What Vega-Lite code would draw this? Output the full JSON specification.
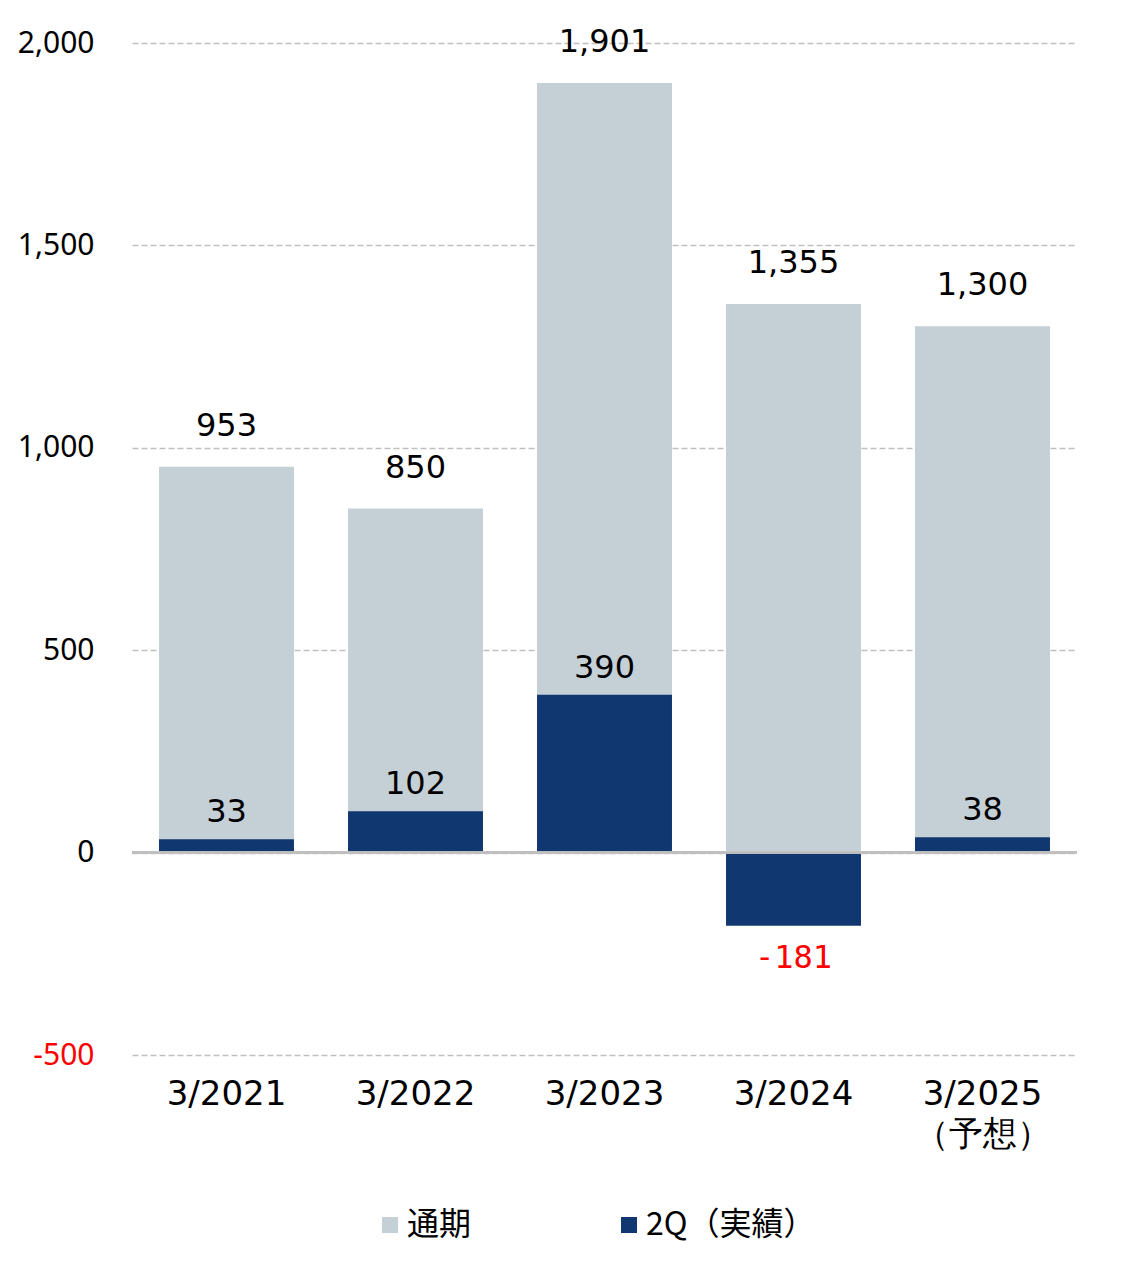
{
  "$schema": "https://vega.github.io/schema/vega-lite/v6.json",
  "width": 945,
  "height": 1012,
  "autosize": {"type": "none"},
  "padding": {"left": 132, "top": 43, "right": 55, "bottom": 209},
  "background": "white",
  "config": {"view": {"stroke": null}, "font": "DejaVu Sans"},
  "data": {
    "values": [
      {"period": "3/2021", "full": 953, "q2": 33},
      {"period": "3/2022", "full": 850, "q2": 102},
      {"period": "3/2023", "full": 1901, "q2": 390},
      {"period": "3/2024", "full": 1355, "q2": -181},
      {"period": "3/2025", "full": 1300, "q2": 38}
    ]
  },
  "layer": [
    {
      "mark": {"type": "bar"},
      "encoding": {
        "x": {
          "field": "period", "type": "nominal", "sort": null,
          "scale": {"paddingInner": 0.286, "paddingOuter": 0.143},
          "axis": {
            "title": null, "ticks": false, "domain": false, "labelAngle": 0,
            "labelFont": "DejaVu Sans", "labelFontSize": 34, "labelColor": "#000000",
            "labelPadding": 22, "labelBaseline": "top", "labelLineHeight": 40,
            "labelExpr": "datum.value == '3/2025' ? ['3/2025', '（予想）'] : datum.value"
          }
        },
        "y": {
          "field": "full", "type": "quantitative",
          "scale": {"domain": [-500, 2000], "nice": false},
          "axis": {
            "title": null, "values": [-500, 0, 500, 1000, 1500, 2000],
            "labelExpr": "replace(format(datum.value, ',.0f'), '−', '-')",
            "ticks": false, "domain": false,
            "labelFont": "Noto Sans", "labelFontSize": 30, "labelPadding": 38,
            "labelColor": {"condition": {"test": "datum.value < 0", "value": "#FF0000"}, "value": "#000000"},
            "gridColor": "#BFBFBF", "gridDash": [6, 3], "gridWidth": 1.5
          }
        },
        "color": {
          "datum": "通期", "type": "nominal",
          "scale": {"domain": ["通期", "2Q（実績）"], "range": ["#C5CFD6", "#10376F"]},
          "legend": {
            "title": null, "orient": "none", "direction": "horizontal",
            "legendX": 242, "legendY": 1166,
            "symbolType": "square", "symbolSize": 256, "symbolStrokeWidth": 0,
            "labelFont": "Noto Sans CJK JP", "labelFontSize": 32, "labelColor": "#000000",
            "labelOffset": 1, "labelLimit": 400, "columnPadding": 141
          }
        }
      }
    },
    {
      "mark": {"type": "bar"},
      "encoding": {
        "x": {"field": "period", "type": "nominal", "sort": null},
        "y": {"field": "q2", "type": "quantitative"},
        "color": {"datum": "2Q（実績）", "type": "nominal"}
      }
    },
    {
      "mark": {"type": "rule", "color": "#BFBFBF", "strokeWidth": 2},
      "encoding": {"y": {"datum": 0}}
    },
    {
      "mark": {"type": "text", "baseline": "alphabetic", "dy": -31, "fontSize": 32, "font": "DejaVu Sans", "color": "#000000"},
      "encoding": {
        "x": {"field": "period", "type": "nominal", "sort": null},
        "y": {"field": "full", "type": "quantitative"},
        "text": {"field": "full", "type": "quantitative", "format": ",.0f"}
      }
    },
    {
      "transform": [{"filter": "datum.q2 >= 0"}],
      "mark": {"type": "text", "baseline": "alphabetic", "dy": -17, "fontSize": 32, "font": "DejaVu Sans", "color": "#000000"},
      "encoding": {
        "x": {"field": "period", "type": "nominal", "sort": null},
        "y": {"field": "q2", "type": "quantitative"},
        "text": {"field": "q2", "type": "quantitative", "format": ",.0f"}
      }
    },
    {
      "transform": [{"filter": "datum.q2 < 0"}],
      "mark": {"type": "text", "baseline": "top", "dy": 17, "fontSize": 32, "font": "DejaVu Sans Mono", "color": "#FF0000"},
      "encoding": {
        "x": {"field": "period", "type": "nominal", "sort": null},
        "y": {"field": "q2", "type": "quantitative"},
        "text": {"field": "q2", "type": "nominal"}
      }
    }
  ]
}
